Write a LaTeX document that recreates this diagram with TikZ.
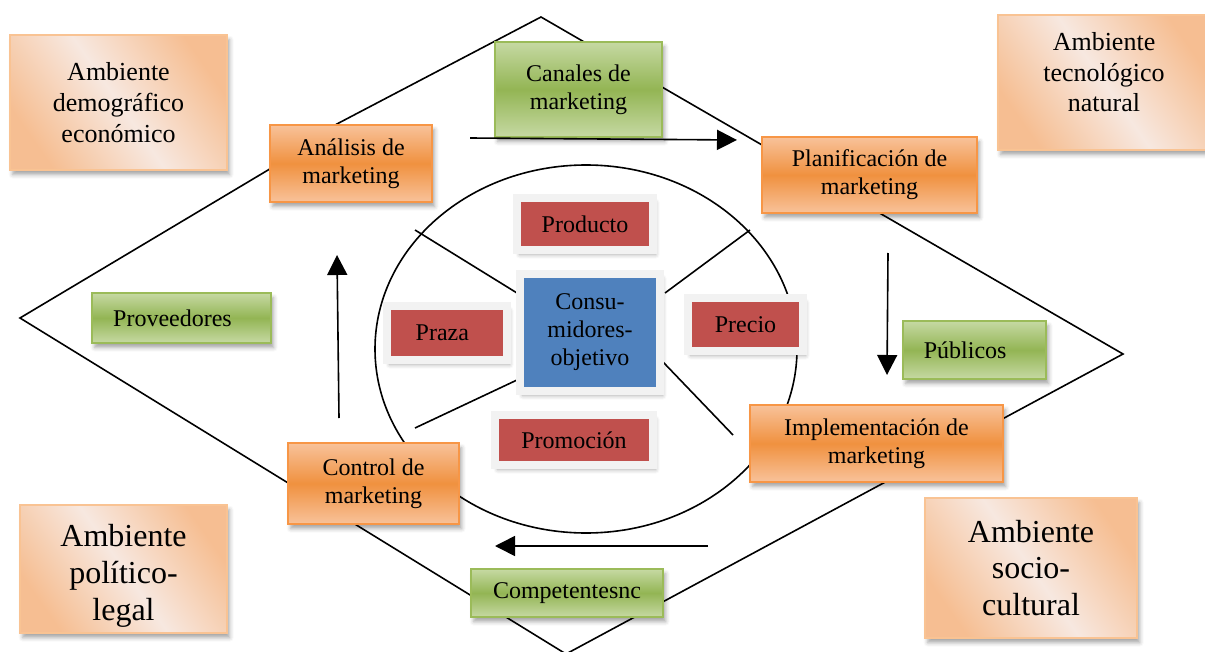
\documentclass[tikz,border=0pt]{standalone}
\usepackage{fontspec}
\setmainfont{LiberationSerif}[Extension=.ttf, UprightFont=*-Regular,
  BoldFont=*-Bold, ItalicFont=*-Italic, BoldItalicFont=*-BoldItalic]
\usetikzlibrary{arrows.meta,calc,shadows.blur}
\pgfdeclarelayer{bg}
\pgfsetlayers{bg,main}

\definecolor{envedge}{HTML}{F9C393}
\definecolor{envdark}{HTML}{F6BE92}
\definecolor{envlight}{HTML}{F7E8E0}
\definecolor{orgedge}{HTML}{F79646}
\definecolor{orglight}{HTML}{F8C29A}
\definecolor{orgdark}{HTML}{F0913F}
\definecolor{grnedge}{HTML}{9BBB59}
\definecolor{grnlight}{HTML}{C6D9A3}
\definecolor{grndark}{HTML}{93B554}
\definecolor{mixred}{HTML}{C0504D}
\definecolor{mixblue}{HTML}{4F81BD}
\definecolor{mixframe}{HTML}{F2F2F2}

\tikzset{
  wh/.style 2 args={minimum width=#1*0.75pt, minimum height=#2*0.75pt},
  base/.style={rectangle, align=center, inner sep=0pt, text=black,
    font=\fontsize{18pt}{21pt}\selectfont},
  softshadow/.style={blur shadow={shadow xshift=2pt, shadow yshift=-3.5pt,
    shadow blur radius=3pt, shadow opacity=35}},
  envbox/.style={base, softshadow, draw=envedge, line width=1.6pt,
    top color=envdark, bottom color=envdark, middle color=envlight,
    shading angle=-55, font=\fontsize{19.5pt}{23pt}\selectfont},
  bigenv/.style={envbox, font=\fontsize{24pt}{27.5pt}\selectfont},
  procbox/.style={base, softshadow, draw=orgedge, line width=1.6pt,
    top color=orglight, bottom color=orglight, middle color=orgdark},
  agentbox/.style={base, softshadow, draw=grnedge, line width=1.6pt,
    top color=grnlight, bottom color=grnlight, middle color=grndark},
  mixbox/.style={base, softshadow, draw=mixframe, line width=6pt, fill=mixred},
  edge/.style={draw=black, line width=1.2pt, line join=miter},
  flow/.style={draw=black, line width=1.2pt,
    -{Triangle[length=15pt, width=15pt]}},
}

\begin{document}
\begin{tikzpicture}[x=0.75pt, y=-0.75pt]
\useasboundingbox (0,0) rectangle (1205,652);
\clip (0,0) rectangle (1205,652);

% surrounding environments
\node[envbox, wh={217}{135}] (demo) at (118.5,102.5) {Ambiente\\demográfico\\económico};
\node[envbox, wh={212}{135}, text depth=15.5pt] (tecno) at (1104,82.5) {Ambiente\\tecnológico\\natural};
\node[bigenv, wh={207}{128}, text height=82pt] (polit) at (123.5,569) {Ambiente\\político-\\legal};
\node[bigenv, wh={212}{140}] (socio) at (1031,568) {Ambiente\\socio-\\cultural};

% marketing process
\node[procbox, wh={162}{77}] (ana) at (351,163.5) {Análisis de\\marketing};
\node[procbox, wh={215}{76}] (pla) at (869.5,175) {Planificación de\\marketing};
\node[procbox, wh={253}{77}] (imp) at (876.5,443.5) {Implementación de\\marketing};
\node[procbox, wh={171}{81}] (con) at (373.5,483.5) {Control de\\marketing};

% actors of the micro-environment
\node[agentbox, wh={167}{95}] (can) at (578.5,89.5) {Canales de\\marketing};
\node[agentbox, wh={179}{50}] (prov) at (181.5,318) {Proveedores\hspace*{13.5pt}};
\node[agentbox, wh={143}{58}] (pub) at (974.5,350) {Públicos\hspace*{14pt}};
\node[agentbox, wh={192}{48}] (comp) at (567,593) {Competentesnc};

% marketing mix around the target consumers
\node[mixbox, wh={136}{52}] (prod) at (585,224) {Producto};
\node[mixbox, wh={120}{54}] (plaza) at (447,333) {\hspace*{-7pt}Praza};
\node[mixbox, wh={115}{53}] (prec) at (745.5,324.5) {Precio};
\node[mixbox, wh={158}{50}] (promo) at (574,440) {Promoción};
\node[mixbox, fill=mixblue, wh={140}{117}] (cons) at (590,332.5) {Consu-\\midores-\\objetivo};

\begin{pgfonlayer}{bg}
  % outer diamond
  \coordinate (tv) at (541,17);
  \coordinate (lv) at (20,318);
  \coordinate (rv) at (1123,354);
  \coordinate (bv) at (566,654);
  \draw[edge] (lv) -- ($(ana.west)+(0,6)$) -- ($(ana.north)+(-14,0)$) -- (tv)
    -- (rv) -- (bv) -- cycle;
  % inner ring
  \draw[edge] (586,349) ellipse [x radius=158.25pt, y radius=138pt];
  % spokes from the ring to the target consumers
  \coordinate (s1) at (415,230);
  \coordinate (s2) at (750,230);
  \coordinate (s3) at (415,428);
  \coordinate (s4) at (733,435);
  \draw[edge] (s1) -- (517,293);
  \draw[edge] (s2) -- (665,293);
  \draw[edge] (s3) -- (517,380);
  \draw[edge] (s4) -- (663,362);
\end{pgfonlayer}

% direction of the process cycle
\coordinate (a1) at (470,138);  \coordinate (b1) at (737,140);
\coordinate (a2) at (888,253);  \coordinate (b2) at (887,375);
\coordinate (a3) at (708,546);  \coordinate (b3) at (495,546);
\coordinate (a4) at (339,418);  \coordinate (b4) at (337,255);
\draw[flow] (a1) -- (b1);
\draw[flow] (a2) -- (b2);
\draw[flow] (a3) -- (b3);
\draw[flow] (a4) -- (b4);
\end{tikzpicture}
\end{document}
